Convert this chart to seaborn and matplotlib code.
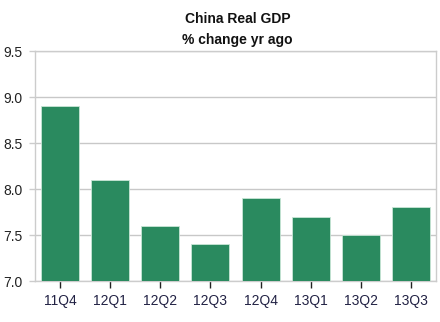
import matplotlib
matplotlib.use("Agg")
import matplotlib.pyplot as plt
import seaborn as sns
import pandas as pd

quarters = ["11Q4", "12Q1", "12Q2", "12Q3", "12Q4", "13Q1", "13Q2", "13Q3"]
gdp_growth = [8.9, 8.1, 7.6, 7.4, 7.9, 7.7, 7.5, 7.8]
y_ticks = [7.0, 7.5, 8.0, 8.5, 9.0, 9.5]

sns.set_theme(style="white")
plt.rcParams["font.family"] = ["Liberation Sans", "DejaVu Sans"]

df = pd.DataFrame({"quarter": quarters, "growth": gdp_growth})

fig = plt.figure(figsize=(4.4, 3.22), dpi=100)
ax = fig.add_axes([35 / 440, 1 - 281 / 322, 401 / 440, 230 / 322])

sns.barplot(data=df, x="quarter", y="growth", color="#2a8a5f", saturation=1,
            width=0.76, edgecolor="#c8e6d6", linewidth=0.6, ax=ax, zorder=3)

ax.set_ylim(7.0, 9.5)
ax.set_xlim(-0.5, len(quarters) - 0.5)
ax.set_yticks(y_ticks)
ax.set_yticklabels([f"{v:.1f}" for v in y_ticks], fontsize=10, color="#222222")
ax.tick_params(axis="x", labelsize=10, labelcolor="#222244", length=5,
               width=1, color="#222222", bottom=True, pad=4)
ax.tick_params(axis="y", length=4, width=1, color="#cccccc", left=True, pad=5)
ax.yaxis.grid(True, color="#c8c8c8", linewidth=1, zorder=0)
ax.set_axisbelow(True)
for side in ax.spines.values():
    side.set_color("#cccccc")
    side.set_linewidth(1)
ax.set_xlabel("")
ax.set_ylabel("")

fig.text(0.5 + 0.5 * 35 / 440, 1 - 19 / 322, "China Real GDP", ha="center", va="center",
         fontsize=10, fontweight="bold", color="#111111")
fig.text(0.5 + 0.5 * 35 / 440, 1 - 40 / 322, "% change yr ago", ha="center", va="center",
         fontsize=10, fontweight="bold", color="#111111")

fig.savefig("out.png", dpi=100)
